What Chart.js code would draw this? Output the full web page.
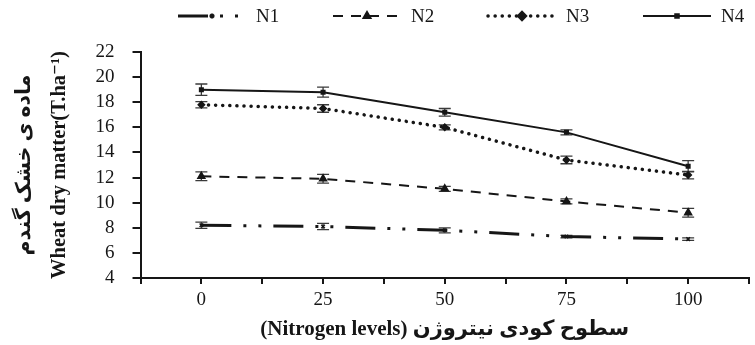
<!DOCTYPE html>
<html lang="fa">
<head>
  <meta charset="UTF-8">
  <style>
    html, body { margin: 0; padding: 0; background: #fff; }
    #wrap { width: 755px; height: 345px; }
  </style>
  <title>Wheat dry matter</title>
</head>
<body>
  <script src="https://cdn.jsdelivr.net/npm/chart.js@4.4.1/dist/chart.umd.min.js"></script>
  <div id="wrap"><canvas id="chart" width="755" height="345"></canvas></div>
  <script>
  // nitrogen levels (x) and dry matter per treatment
  const levels = [0, 25, 50, 75, 100]
  const seriesNames = ['N1', 'N2', 'N3', 'N4']
  const n1 = [8.2, 8.1, 7.8, 7.3, 7.1]
  const n2 = [12.1, 11.9, 11.1, 10.1, 9.2]
  const n3 = [17.8, 17.5, 16.0, 13.4, 12.2]
  const n4 = [19.0, 18.8, 17.2, 15.6, 12.9]
  const n1Err = [0.25, 0.25, 0.2, 0.1, 0.1]
  const n2Err = [0.35, 0.35, 0.2, 0.2, 0.35]
  const n3Err = [0.25, 0.3, 0.2, 0.3, 0.3]
  const n4Err = [0.45, 0.4, 0.3, 0.2, 0.45]
  const yTicks = [4, 6, 8, 10, 12, 14, 16, 18, 20, 22]

  const serif = "'Liberation Serif', 'DejaVu Serif', 'DejaVu Sans', serif"
  const ink = '#161616'

  const toPoints = (vals) => vals.map((v, i) => ({ x: levels[i], y: v }))

  const styles = [
    { dash: [30, 12, 3, 12, 3, 12], width: 3, pt: 'crossRot', r: 2.5, cap: 'butt' },
    { dash: [10, 8], width: 2, pt: 'triangle', r: 4, cap: 'butt' },
    { dash: [0.1, 7], width: 3.5, pt: 'rectRot', r: 3.2, cap: 'round' },
    { dash: [], width: 2, pt: 'rect', r: 2.5, cap: 'butt' },
  ]
  const values = [n1, n2, n3, n4]
  const errors = [n1Err, n2Err, n3Err, n4Err]

  const datasets = values.map((vals, k) => ({
    label: seriesNames[k],
    data: toPoints(vals),
    errors: errors[k],
    borderColor: ink,
    backgroundColor: ink,
    borderWidth: styles[k].width,
    borderDash: styles[k].dash,
    borderCapStyle: styles[k].cap,
    pointStyle: styles[k].pt,
    pointRadius: styles[k].r,
    pointBorderWidth: 1.5,
    pointBorderColor: ink,
    pointBackgroundColor: ink,
    tension: 0,
  }))

  // vertical error bars with caps
  const errorBars = {
    id: 'errorBars',
    beforeDatasetsDraw(chart) {
      const { ctx, scales: { x, y } } = chart
      ctx.save()
      ctx.strokeStyle = '#3a3a3a'
      ctx.lineWidth = 1.3
      ctx.setLineDash([])
      chart.data.datasets.forEach((ds) => {
        ds.data.forEach((p, i) => {
          const e = ds.errors[i]
          const px = x.getPixelForValue(p.x)
          const top = y.getPixelForValue(p.y + e)
          const bot = y.getPixelForValue(p.y - e)
          ctx.beginPath()
          ctx.moveTo(px, top); ctx.lineTo(px, bot)
          ctx.moveTo(px - 6, top); ctx.lineTo(px + 6, top)
          ctx.moveTo(px - 6, bot); ctx.lineTo(px + 6, bot)
          ctx.stroke()
        })
      })
      ctx.restore()
    }
  }

  // legend row across the top: line sample with marker, then name
  const topLegend = {
    id: 'topLegend',
    afterDraw(chart) {
      const { ctx } = chart
      ctx.save()
      chart.data.datasets.forEach((ds, k) => {
        const x0 = 178 + k * 155
        const yy = 16
        ctx.strokeStyle = ink
        ctx.lineWidth = ds.borderWidth
        ctx.lineCap = ds.borderCapStyle
        ctx.setLineDash(ds.borderDash)
        ctx.beginPath()
        ctx.moveTo(x0, yy); ctx.lineTo(x0 + 68, yy)
        ctx.stroke()
        ctx.setLineDash([])
        Chart.helpers.drawPoint(ctx, {
          pointStyle: ds.pointStyle, radius: ds.pointRadius, borderWidth: 1.5, rotation: 0
        }, x0 + 34, yy)
        ctx.fillStyle = ink
        ctx.font = '19px ' + serif
        ctx.textBaseline = 'middle'
        ctx.fillText(ds.label, x0 + 78, yy + 1)
      })
      ctx.restore()
    }
  }

  new Chart(document.getElementById('chart'), {
    type: 'line',
    data: { datasets },
    plugins: [errorBars, topLegend],
    options: {
      responsive: false,
      animation: false,
      layout: { padding: { top: 52, right: 6, left: 7, bottom: 3 } },
      plugins: { legend: { display: false }, tooltip: { enabled: false } },
      scales: {
        x: {
          type: 'linear',
          min: -12.5,
          max: 112.5,
          afterBuildTicks: (axis) => {
            const t = []
            for (let v = -12.5; v <= 112.5; v += 12.5) t.push({ value: v })
            axis.ticks = t
          },
          grid: { drawOnChartArea: false, color: ink, tickLength: 6, lineWidth: 2 },
          border: { color: ink, width: 2 },
          ticks: {
            autoSkip: false,
            maxRotation: 0,
            color: ink,
            font: { family: serif, size: 19 },
            padding: 5,
            callback: (v) => (levels.includes(v) ? String(v) : ''),
          },
          title: {
            display: true,
            text: '(Nitrogen levels) سطوح کودی نیتروژن',
            color: ink,
            font: { family: serif, size: 21, weight: 'bold' },
            padding: { top: 0, bottom: 0 },
          },
        },
        y: {
          min: 4,
          max: 22,
          afterBuildTicks: (axis) => { axis.ticks = yTicks.map((v) => ({ value: v })) },
          grid: { drawOnChartArea: false, color: ink, tickLength: 8, lineWidth: 2 },
          border: { color: ink, width: 2 },
          ticks: {
            autoSkip: false,
            color: ink,
            font: { family: serif, size: 19 },
            padding: 18,
          },
          title: {
            display: true,
            text: ['ماده ی خشک گندم', 'Wheat dry matter(T.ha⁻¹)'],
            color: ink,
            font: { family: serif, size: 20.5, weight: 'bold', lineHeight: 1.72 },
            padding: { top: 0, bottom: 0 },
          },
        },
      },
    },
  })
  </script>
</body>
</html>
